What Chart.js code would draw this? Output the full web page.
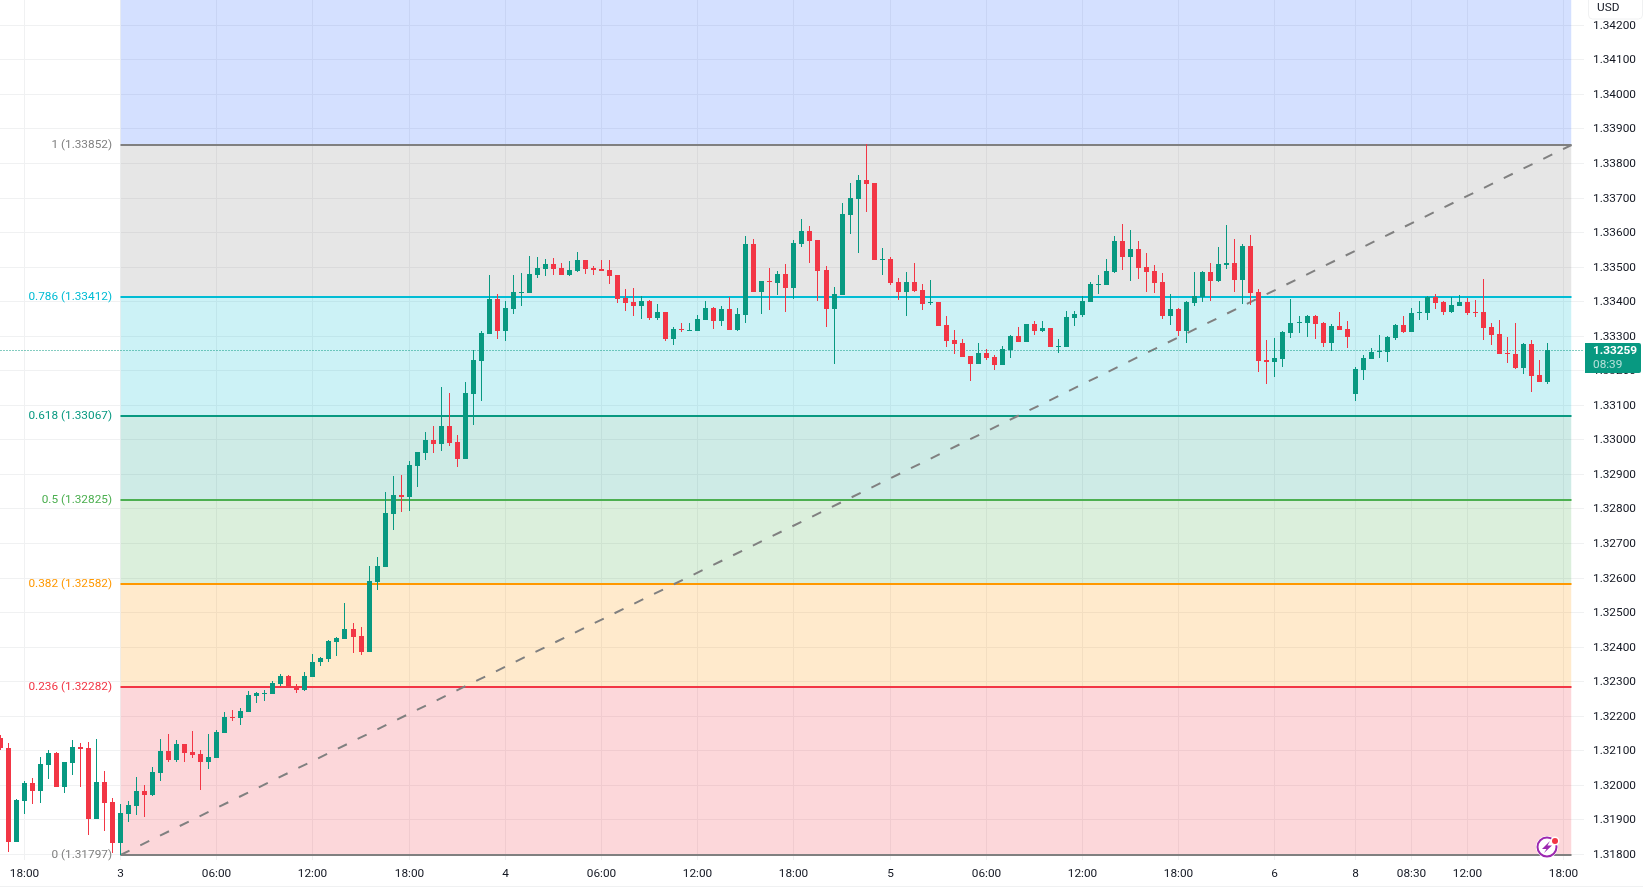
<!DOCTYPE html>
<html>
<head>
<meta charset="utf-8">
<title>GBPUSD 30m</title>
<style>
  html, body { margin: 0; padding: 0; background: #fff; overflow: hidden; }
  canvas { display: block; }
</style>
<script src="https://cdn.jsdelivr.net/npm/chart.js@4/dist/chart.umd.min.js"></script>
</head>
<body>
<canvas id="grafico" width="1643" height="888"></canvas>
<script>
// candles, index 0 is the first bar of day 3
var firstBar = -15;
var opens = [
  1.32135,1.32106,1.31836,1.31954,1.32004,1.31983,1.32058,1.32091,1.31995,1.32064,1.32109,1.32106,1.31902,1.32007,1.31949,
  1.31833,1.31917,1.31940,1.31981,1.31971,1.32035,1.32097,1.32073,1.32117,1.32094,1.32088,1.32067,1.32079,1.32151,1.32195,1.32194,1.32212,1.32258,1.32264,1.32264,1.32291,1.32314,1.32282,1.32275,1.32313,1.32355,1.32365,
  1.32414,1.32422,1.32451,1.32431,1.32385,1.32587,1.32631,1.32784,1.32839,1.32833,1.32923,1.32961,1.32998,1.32987,1.33039,1.32992,1.32943,1.33131,1.33227,1.33305,1.33406,1.33314,1.33377,1.33424,1.33424,1.33476,1.33493,1.33507,1.33496,1.33476,1.33487,1.33519,1.33496,1.33493,1.33490,1.33476,1.33409,1.33398,1.33386,1.33400,1.33351,1.33369,1.33290,1.33319,1.33314,1.33314,
  1.33345,1.33380,1.33343,1.33377,1.33317,1.33360,1.33565,1.33426,1.33458,1.33453,1.33479,1.33438,1.33565,1.33603,1.33577,1.33490,1.33377,1.33418,1.33649,1.33696,1.33750,1.33742,1.33519,1.33522,1.33455,1.33426,1.33455,1.33432,1.33395,1.33398,1.33331,1.33288,1.33279,1.33241,1.33218,1.33250,1.33238,1.33215,1.33259,1.33299,1.33282,1.33334,1.33314,1.33322,1.33267,1.33267,1.33351,1.33360,
  1.33398,1.33447,1.33447,1.33484,1.33574,1.33528,1.33551,1.33499,1.33487,1.33455,1.33357,1.33377,1.33314,1.33395,1.33412,1.33484,1.33458,1.33505,1.33510,1.33461,1.33560,1.33426,1.33230,1.33224,1.33233,1.33308,1.33337,1.33337,1.33357,1.33337,1.33279,1.33328,1.33319,
  1.33131,1.33201,1.33233,1.33253,1.33253,1.33293,1.33331,1.33311,1.33366,1.33366,1.33412,1.33398,1.33369,1.33386,1.33398,1.33369,1.33369,1.33325,1.33305,1.33250,1.33247,1.33207,1.33276,1.33186,1.33166
];
var highs = [
  1.32144,1.32120,1.31959,1.32010,1.32020,1.32082,1.32100,1.32094,1.32066,1.32130,1.32120,1.32123,1.32134,1.32039,1.31961,
  1.31946,1.31952,1.32023,1.32001,1.32051,1.32134,1.32146,1.32129,1.32117,1.32155,1.32100,1.32146,1.32158,1.32211,1.32216,1.32223,1.32271,1.32268,1.32275,1.32302,1.32321,1.32317,1.32291,1.32328,1.32379,1.32369,1.32419,
  1.32428,1.32527,1.32469,1.32457,1.32634,1.32660,1.32848,1.32894,1.32897,1.32938,1.32964,1.33021,1.33039,1.33152,1.33134,1.33013,1.33166,1.33259,1.33314,1.33476,1.33421,1.33400,1.33476,1.33481,1.33531,1.33528,1.33522,1.33525,1.33510,1.33516,1.33542,1.33519,1.33502,1.33519,1.33519,1.33476,1.33435,1.33438,1.33415,1.33403,1.33392,1.33369,1.33325,1.33337,1.33337,1.33360,
  1.33400,1.33383,1.33386,1.33412,1.33380,1.33588,1.33580,1.33458,1.33496,1.33487,1.33507,1.33577,1.33638,1.33617,1.33577,1.33502,1.33441,1.33684,1.33742,1.33765,1.33856,1.33742,1.33554,1.33528,1.33467,1.33484,1.33510,1.33450,1.33461,1.33398,1.33357,1.33317,1.33290,1.33241,1.33279,1.33262,1.33244,1.33270,1.33302,1.33325,1.33334,1.33343,1.33343,1.33322,1.33290,1.33371,1.33371,1.33415,
  1.33455,1.33476,1.33522,1.33588,1.33623,1.33606,1.33574,1.33539,1.33505,1.33481,1.33421,1.33380,1.33400,1.33484,1.33487,1.33510,1.33557,1.33620,1.33580,1.33565,1.33591,1.33435,1.33288,1.33293,1.33314,1.33406,1.33357,1.33360,1.33360,1.33340,1.33334,1.33369,1.33343,
  1.33209,1.33244,1.33264,1.33302,1.33299,1.33334,1.33357,1.33380,1.33400,1.33415,1.33421,1.33400,1.33412,1.33418,1.33409,1.33403,1.33464,1.33337,1.33345,1.33296,1.33337,1.33279,1.33288,1.33230,1.33279
];
var lows = [
  1.32101,1.31807,1.31836,1.31917,1.31946,1.31948,1.32018,1.31995,1.31977,1.32028,1.31995,1.31856,1.31902,1.31867,1.31802,
  1.31797,1.31893,1.31914,1.31908,1.31969,1.32012,1.32067,1.32067,1.32067,1.32079,1.31986,1.32047,1.32079,1.32151,1.32186,1.32174,1.32212,1.32237,1.32243,1.32264,1.32286,1.32285,1.32266,1.32272,1.32313,1.32344,1.32356,
  1.32373,1.32422,1.32382,1.32376,1.32385,1.32564,1.32631,1.32738,1.32790,1.32793,1.32862,1.32940,1.32961,1.32966,1.32981,1.32920,1.32943,1.33042,1.33111,1.33305,1.33290,1.33285,1.33363,1.33386,1.33424,1.33467,1.33473,1.33476,1.33476,1.33473,1.33484,1.33479,1.33476,1.33487,1.33450,1.33395,1.33371,1.33357,1.33348,1.33345,1.33345,1.33285,1.33273,1.33311,1.33314,1.33314,
  1.33345,1.33319,1.33328,1.33317,1.33314,1.33337,1.33426,1.33363,1.33374,1.33418,1.33369,1.33406,1.33557,1.33510,1.33400,1.33325,1.33218,1.33418,1.33594,1.33539,1.33658,1.33519,1.33476,1.33447,1.33403,1.33357,1.33426,1.33374,1.33389,1.33328,1.33267,1.33247,1.33238,1.33169,1.33218,1.33230,1.33201,1.33215,1.33236,1.33282,1.33282,1.33302,1.33311,1.33267,1.33250,1.33267,1.33328,1.33354,
  1.33398,1.33421,1.33447,1.33481,1.33490,1.33458,1.33464,1.33426,1.33424,1.33348,1.33331,1.33299,1.33279,1.33386,1.33398,1.33400,1.33455,1.33493,1.33426,1.33392,1.33389,1.33195,1.33160,1.33181,1.33209,1.33293,1.33308,1.33296,1.33290,1.33267,1.33256,1.33317,1.33264,
  1.33111,1.33172,1.33233,1.33236,1.33224,1.33288,1.33308,1.33311,1.33345,1.33345,1.33377,1.33360,1.33366,1.33386,1.33360,1.33354,1.33288,1.33273,1.33247,1.33221,1.33204,1.33189,1.33137,1.33166,1.33160
];
var closes = [
  1.32106,1.31836,1.31956,1.32004,1.31983,1.32059,1.32092,1.31995,1.32066,1.32109,1.32105,1.31901,1.32007,1.31948,1.31833,
  1.31918,1.31941,1.31981,1.31972,1.32036,1.32097,1.32073,1.32117,1.32093,1.32086,1.32067,1.32080,1.32152,1.32195,1.32193,1.32213,1.32259,1.32265,1.32265,1.32294,1.32314,1.32285,1.32275,1.32314,1.32357,1.32366,1.32416,
  1.32425,1.32451,1.32428,1.32385,1.32590,1.32634,1.32787,1.32839,1.32833,1.32926,1.32964,1.32998,1.32987,1.33039,1.32990,1.32943,1.33134,1.33230,1.33308,1.33406,1.33314,1.33380,1.33426,1.33426,1.33479,1.33496,1.33507,1.33493,1.33476,1.33490,1.33519,1.33493,1.33490,1.33487,1.33473,1.33406,1.33395,1.33386,1.33400,1.33351,1.33369,1.33290,1.33319,1.33317,1.33317,1.33348,
  1.33380,1.33343,1.33377,1.33317,1.33363,1.33565,1.33426,1.33458,1.33455,1.33479,1.33438,1.33568,1.33603,1.33574,1.33487,1.33377,1.33421,1.33652,1.33698,1.33750,1.33739,1.33519,1.33522,1.33453,1.33426,1.33455,1.33429,1.33392,1.33398,1.33328,1.33285,1.33276,1.33238,1.33218,1.33250,1.33236,1.33215,1.33262,1.33299,1.33282,1.33334,1.33314,1.33322,1.33267,1.33270,1.33354,1.33363,1.33400,
  1.33450,1.33450,1.33487,1.33574,1.33528,1.33551,1.33496,1.33484,1.33453,1.33357,1.33377,1.33314,1.33398,1.33415,1.33484,1.33458,1.33507,1.33510,1.33461,1.33560,1.33424,1.33227,1.33224,1.33236,1.33311,1.33337,1.33340,1.33357,1.33334,1.33279,1.33328,1.33317,1.33296,
  1.33204,1.33236,1.33253,1.33256,1.33296,1.33331,1.33311,1.33366,1.33369,1.33412,1.33395,1.33369,1.33389,1.33398,1.33366,1.33367,1.33322,1.33302,1.33247,1.33247,1.33207,1.33276,1.33183,1.33166,1.33259
];

// axes
var timeTickBars = [-12, 0, 12, 24, 36, 48, 60, 72, 84, 96, 108, 120, 132, 144, 154, 161, 168, 180];
var timeTickLabels = ['18:00', '3', '06:00', '12:00', '18:00', '4', '06:00', '12:00', '18:00', '5', '06:00', '12:00', '18:00', '6', '8', '08:30', '12:00', '18:00'];
var priceTicks = [1.318, 1.319, 1.320, 1.321, 1.322, 1.323, 1.324, 1.325, 1.326, 1.327, 1.328, 1.329, 1.330, 1.331, 1.332, 1.333, 1.334, 1.335, 1.336, 1.337, 1.338, 1.339, 1.340, 1.341, 1.342];

// fibonacci retracement, 1.618 sits above the visible range
var fibLevels = [0, 0.236, 0.382, 0.5, 0.618, 0.786, 1, 1.618];
var fibPrices = [1.31797, 1.32282, 1.32582, 1.32825, 1.33067, 1.33412, 1.33852, 1.35122];
var fibColors = ['#808080', '#F23645', '#FF9800', '#4CAF50', '#089981', '#00BCD4', '#808080', '#2962FF'];
var fibBands = ['', 'rgba(242,54,69,0.2)', 'rgba(255,152,0,0.2)', 'rgba(76,175,80,0.2)', 'rgba(8,153,129,0.2)', 'rgba(0,188,212,0.2)', 'rgba(128,128,128,0.2)', 'rgba(41,98,255,0.2)'];
var fibStart = 0;
var fibEnd = 181;

var UP = '#089981';
var DOWN = '#F23645';
var FONT = '11.8px Roboto';
var lastPrice = closes[closes.length - 1];
var countdown = '08:39';

var wicks = [], bodies = [], candleColors = [];
for (var i = 0; i < opens.length; i++) {
  wicks.push({ x: firstBar + i, y: [lows[i], highs[i]] });
  bodies.push({ x: firstBar + i, y: [opens[i], closes[i]] });
  candleColors.push(closes[i] >= opens[i] ? UP : DOWN);
}

var datasets = [];

// bands and level lines
fibPrices.forEach(function (price, n) {
  datasets.push({
    type: 'line',
    data: [{ x: fibStart, y: price }, { x: fibEnd, y: price }],
    borderColor: fibColors[n],
    borderWidth: 2,
    borderCapStyle: 'butt',
    pointRadius: 0,
    backgroundColor: fibBands[n],
    fill: n === 0 ? false : '-1',
    clip: false,
    order: 5
  });
});

// trend line of the retracement
datasets.push({
  type: 'line',
  data: [{ x: fibStart, y: fibPrices[0] }, { x: fibEnd, y: fibPrices[6] }],
  borderColor: '#808080',
  borderWidth: 2,
  borderDash: [10, 12],
  pointRadius: 0,
  fill: false,
  order: 4
});

// last price line
datasets.push({
  type: 'line',
  label: 'last',
  data: [{ x: -15, y: lastPrice }, { x: 183, y: lastPrice }],
  borderColor: UP,
  borderWidth: 1,
  borderDash: [1, 2],
  pointRadius: 0,
  fill: false,
  order: 3
});

datasets.push({
  type: 'bar',
  data: wicks,
  backgroundColor: candleColors,
  barThickness: 1,
  minBarLength: 1,
  inflateAmount: 0,
  grouped: false,
  order: 2
});
datasets.push({
  type: 'bar',
  data: bodies,
  backgroundColor: candleColors,
  barThickness: 5,
  minBarLength: 1,
  inflateAmount: 0,
  grouped: false,
  order: 1
});

// keeps bars on whole pixels so they stay crisp
var snapPlugin = {
  id: 'snap',
  beforeDatasetsUpdate: function (chart) {
    var sx = chart.scales.x, sy = chart.scales.y;
    var baseX = sx.constructor.prototype.getPixelForValue;
    var baseY = sy.constructor.prototype.getPixelForValue;
    sx.getPixelForValue = function (v) { return Math.round(baseX.call(sx, v)) + 0.5; };
    sy.getPixelForValue = function (v) { return Math.round(baseY.call(sy, v)); };
  },
  beforeDatasetDraw: function (chart, args) {
    if (args.meta.label === 'last') {
      chart.ctx.save();
      chart.ctx.translate(0, 0.5);
    }
  },
  afterDatasetDraw: function (chart, args) {
    if (args.meta.label === 'last') chart.ctx.restore();
  }
};

function roundBox(ctx, x, y, w, h, r) {
  ctx.beginPath();
  ctx.roundRect(x, y, w, h, r);
}

// level labels, currency box, last price tag and the small badge
var overlayPlugin = {
  id: 'overlay',
  afterDraw: function (chart) {
    var ctx = chart.ctx, sy = chart.scales.y, sx = chart.scales.x;
    ctx.save();
    ctx.font = FONT;
    ctx.textBaseline = 'middle';

    ctx.textAlign = 'right';
    fibLevels.forEach(function (level, n) {
      if (fibPrices[n] > sy.max) return;
      ctx.fillStyle = fibColors[n];
      ctx.fillText(level + ' (' + fibPrices[n].toFixed(5) + ')', sx.getPixelForValue(fibStart) - 8.5, sy.getPixelForValue(fibPrices[n]) + 0.5);
    });

    ctx.textAlign = 'left';
    // currency
    ctx.fillStyle = '#fff';
    ctx.strokeStyle = '#f0f1f2';
    roundBox(ctx, 1588.5, -6, 54, 25, 4);
    ctx.fill();
    ctx.stroke();
    ctx.fillStyle = '#131722';
    ctx.fillText('USD', 1597, 8);

    // last price tag
    var tagTop = sy.getPixelForValue(lastPrice) - 7;
    ctx.fillStyle = UP;
    roundBox(ctx, 1585, tagTop, 56, 30, [0, 2, 2, 0]);
    ctx.fill();
    ctx.fillStyle = '#fff';
    ctx.font = 'bold 11.8px Roboto';
    ctx.fillText(lastPrice.toFixed(5), 1593, tagTop + 8.5);
    ctx.font = FONT;
    ctx.fillStyle = 'rgba(255,255,255,0.7)';
    ctx.fillText(countdown, 1593, tagTop + 22);

    // badge
    ctx.fillStyle = '#fff';
    ctx.beginPath();
    ctx.arc(1547, 847, 11, 0, Math.PI * 2);
    ctx.fill();
    ctx.strokeStyle = '#9C27B0';
    ctx.lineWidth = 2;
    ctx.beginPath();
    ctx.arc(1547, 847, 9.5, 0, Math.PI * 2);
    ctx.stroke();
    ctx.fillStyle = '#9C27B0';
    ctx.beginPath();
    ctx.moveTo(1550, 841);
    ctx.lineTo(1542, 849);
    ctx.lineTo(1546.5, 849);
    ctx.lineTo(1544, 853);
    ctx.lineTo(1552, 845.5);
    ctx.lineTo(1547.5, 845.5);
    ctx.closePath();
    ctx.fill();
    ctx.fillStyle = '#fff';
    ctx.beginPath();
    ctx.arc(1555, 841, 4.5, 0, Math.PI * 2);
    ctx.fill();
    ctx.fillStyle = DOWN;
    ctx.beginPath();
    ctx.arc(1555, 841, 3, 0, Math.PI * 2);
    ctx.fill();

    // line under the time axis
    ctx.fillStyle = '#f0f1f2';
    ctx.fillRect(0, 886, 1643, 1);
    ctx.restore();
  }
};

var ctx1 = document.getElementById('grafico').getContext('2d');
var grafico = new Chart(ctx1, {
  type: 'bar',
  data: { datasets: datasets },
  plugins: [snapPlugin, overlayPlugin],
  options: {
    responsive: false,
    animation: false,
    layout: { padding: 0 },
    plugins: {
      legend: { display: false },
      tooltip: { enabled: false },
      title: { display: false }
    },
    scales: {
      x: {
        type: 'linear',
        offset: false,
        min: -14.97,
        max: 182.61,
        border: { display: false },
        grid: { color: '#f0f1f2', offset: false, drawTicks: false },
        afterBuildTicks: function (scale) {
          scale.ticks = timeTickBars.map(function (v) { return { value: v }; });
        },
        afterFit: function (scale) {
          scale.height = 28;
          scale.paddingLeft = 0;
          scale.paddingRight = 0;
        },
        ticks: {
          autoSkip: false,
          maxRotation: 0,
          padding: 7,
          color: '#131722',
          font: { family: 'Roboto', size: 11.8 },
          callback: function (value) {
            return timeTickLabels[timeTickBars.indexOf(value)];
          }
        }
      },
      y: {
        type: 'linear',
        position: 'right',
        min: 1.317825,
        max: 1.342717,
        border: { display: false },
        grid: { color: '#f0f1f2', drawTicks: false },
        afterBuildTicks: function (scale) {
          scale.ticks = priceTicks.map(function (v) { return { value: v }; });
        },
        afterFit: function (scale) {
          scale.width = 59;
          scale.paddingTop = 0;
          scale.paddingBottom = 0;
        },
        ticks: {
          autoSkip: false,
          padding: 9,
          labelOffset: 1,
          color: '#131722',
          font: { family: 'Roboto', size: 11.8 },
          callback: function (value) { return value.toFixed(5); }
        }
      }
    }
  }
});
</script>
</body>
</html>
